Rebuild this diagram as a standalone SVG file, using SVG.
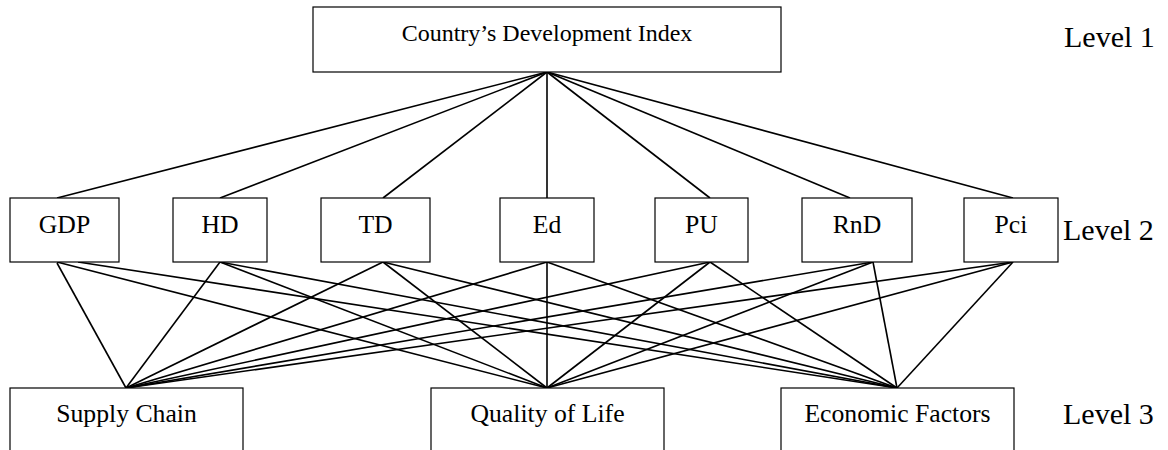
<svg xmlns="http://www.w3.org/2000/svg" width="1168" height="450" viewBox="0 0 1168 450">
<style>
.box{fill:#fff;stroke:#000;stroke-width:1.2}
.lbl{font-family:"Liberation Serif","Times New Roman",serif;font-size:25.7px;text-anchor:middle;fill:#000}
.top{font-size:24px}
.lvl{font-family:"Liberation Serif","Times New Roman",serif;font-size:30px;fill:#000}
.c line{stroke:#000;stroke-width:1.6}
</style>
<rect width="1168" height="450" fill="#fff"/>
<g class="c" id="connectors">
<line x1="547" y1="72" x2="57" y2="198"/>
<line x1="547" y1="72" x2="220" y2="198"/>
<line x1="547" y1="72" x2="383" y2="198"/>
<line x1="547" y1="72" x2="547" y2="198"/>
<line x1="547" y1="72" x2="710" y2="198"/>
<line x1="547" y1="72" x2="850" y2="198"/>
<line x1="547" y1="72" x2="1013" y2="198"/>
<line x1="57" y1="263" x2="126" y2="388"/>
<line x1="57" y1="262" x2="547" y2="388"/>
<line x1="78" y1="262" x2="897" y2="388"/>
<line x1="220" y1="262" x2="126" y2="388"/>
<line x1="220" y1="262" x2="547" y2="388"/>
<line x1="220" y1="262" x2="897" y2="388"/>
<line x1="383" y1="262" x2="126" y2="388"/>
<line x1="383" y1="262" x2="547" y2="388"/>
<line x1="383" y1="262" x2="897" y2="388"/>
<line x1="547" y1="262" x2="126" y2="388"/>
<line x1="547" y1="262" x2="547" y2="388"/>
<line x1="547" y1="262" x2="897" y2="388"/>
<line x1="710" y1="262" x2="126" y2="388"/>
<line x1="710" y1="262" x2="547" y2="388"/>
<line x1="710" y1="262" x2="897" y2="388"/>
<line x1="873" y1="262" x2="126" y2="388"/>
<line x1="873" y1="262" x2="547" y2="388"/>
<line x1="873" y1="262" x2="897" y2="388"/>
<line x1="1013" y1="262" x2="126" y2="388"/>
<line x1="1013" y1="262" x2="547" y2="388"/>
<line x1="1013" y1="262" x2="897" y2="388"/>
</g>
<g id="cdi"><rect class="box" x="313" y="7" width="468" height="65"/><text class="lbl top" x="547" y="41">Country’s Development Index</text></g>
<g id="gdp"><rect class="box" x="10" y="198" width="109" height="64"/><text class="lbl" x="64.5" y="233">GDP</text></g>
<g id="hd"><rect class="box" x="173" y="198" width="94" height="64"/><text class="lbl" x="220" y="233">HD</text></g>
<g id="td"><rect class="box" x="321" y="198" width="109" height="64"/><text class="lbl" x="375.5" y="233">TD</text></g>
<g id="ed"><rect class="box" x="500" y="198" width="94" height="64"/><text class="lbl" x="547" y="233">Ed</text></g>
<g id="pu"><rect class="box" x="655" y="198" width="93" height="64"/><text class="lbl" x="701.5" y="233">PU</text></g>
<g id="rnd"><rect class="box" x="802" y="198" width="110" height="64"/><text class="lbl" x="857" y="233">RnD</text></g>
<g id="pci"><rect class="box" x="964" y="198" width="94" height="64"/><text class="lbl" x="1011" y="233">Pci</text></g>
<g id="sc"><rect class="box" x="10" y="388" width="233" height="80"/><text class="lbl" x="126.5" y="422">Supply Chain</text></g>
<g id="qol"><rect class="box" x="431" y="388" width="233" height="80"/><text class="lbl" x="547.5" y="422">Quality of Life</text></g>
<g id="ef"><rect class="box" x="781" y="388" width="233" height="80"/><text class="lbl" x="897.5" y="422">Economic Factors</text></g>
<g id="levels">
<text class="lvl" x="1064" y="47">Level 1</text>
<text class="lvl" x="1063" y="240">Level 2</text>
<text class="lvl" x="1063" y="424">Level 3</text>
</g>
</svg>
